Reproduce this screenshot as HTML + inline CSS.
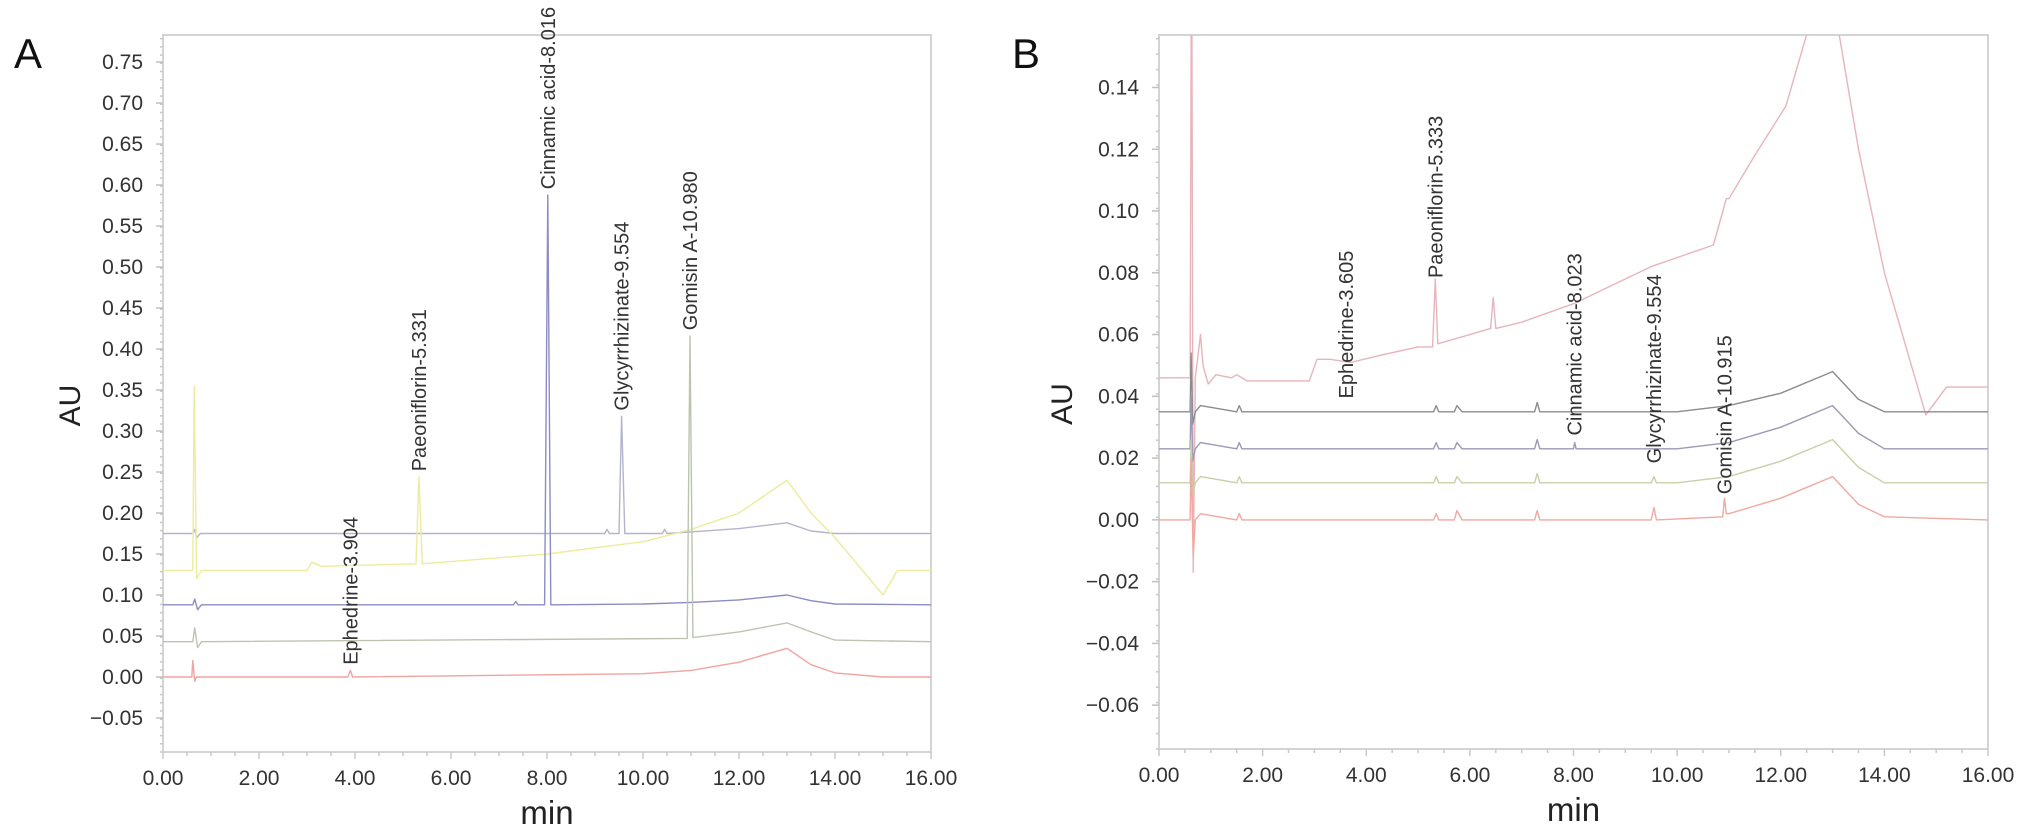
<!DOCTYPE html>
<html><head><meta charset="utf-8">
<style>
html,body{margin:0;padding:0;background:#fff;}
svg{display:block;font-family:"Liberation Sans",Arial,sans-serif;}
</style></head>
<body>
<svg id="chart" width="2032" height="836" viewBox="0 0 2032 836" xmlns="http://www.w3.org/2000/svg">
<text x="28" y="68" font-size="42" fill="#111" text-anchor="middle">A</text>
<text x="1026" y="68" font-size="42" fill="#111" text-anchor="middle">B</text>
<g id="panelA"></g>
<g id="panelB"></g>
</svg>
<script>
// ---------- Panel A data ----------
const aXTicks = ["0.00","2.00","4.00","6.00","8.00","10.00","12.00","14.00","16.00"];
const aYTicks = [-0.05,0,0.05,0.10,0.15,0.20,0.25,0.30,0.35,0.40,0.45,0.50,0.55,0.60,0.65,0.70,0.75];
const aTopT = [0,0.62,0.66,0.7,0.78,9.2,9.25,9.3,9.5,9.554,9.62,10.4,10.45,10.5,11,12,13,13.5,14,16];
const aTopV = [0.175,0.175,0.18,0.17,0.175,0.175,0.18,0.175,0.175,0.318,0.175,0.175,0.18,0.175,0.177,0.181,0.188,0.178,0.175,0.175];
const aYelT = [0,0.62,0.65,0.7,0.8,0.9,3.0,3.1,3.3,5.27,5.331,5.4,8,10,11,12,13,13.5,14,15,15.3,16];
const aYelV = [0.13,0.13,0.355,0.12,0.13,0.13,0.13,0.14,0.135,0.138,0.244,0.138,0.15,0.165,0.18,0.20,0.24,0.20,0.17,0.10,0.13,0.13];
const aBluT = [0,0.62,0.66,0.72,0.8,7.3,7.35,7.4,7.95,8.016,8.08,10,11,12,13,13.5,14,16];
const aBluV = [0.088,0.088,0.095,0.082,0.088,0.088,0.092,0.088,0.088,0.588,0.088,0.089,0.091,0.094,0.100,0.093,0.089,0.088];
const aGryT = [0,0.62,0.66,0.72,0.8,10.92,10.98,11.04,12,13,13.5,14,16];
const aGryV = [0.043,0.043,0.06,0.036,0.043,0.047,0.416,0.048,0.055,0.066,0.055,0.045,0.043];
const aRedT = [0,0.6,0.62,0.66,0.7,3.85,3.904,3.95,10,11,12,13,13.5,14,15,16];
const aRedV = [0,0,0.02,-0.005,0,0,0.008,0,0.004,0.008,0.018,0.035,0.015,0.005,0,0];
const aPeakNames = ["Ephedrine-3.904","Paeoniflorin-5.331","Cinnamic acid-8.016","Glycyrrhizinate-9.554","Gomisin A-10.980"];
const aPeakT = [3.904,5.331,8.016,9.554,10.980];
const aPeakV = [0.010,0.246,0.590,0.320,0.418];

// ---------- Panel B data ----------
const bXTicks = ["0.00","2.00","4.00","6.00","8.00","10.00","12.00","14.00","16.00"];
const bYTicks = [-0.06,-0.04,-0.02,0,0.02,0.04,0.06,0.08,0.10,0.12,0.14];
const bPnkT = [0,0.6,0.63,0.66,0.7,0.8,0.85,0.95,1.1,1.4,1.5,1.7,2.9,3.05,3.3,3.7,4.2,5.0,5.28,5.333,5.38,6.0,6.4,6.45,6.5,7,8,9.5,10.7,10.95,11.0,11.5,12.1,12.55,12.8,13.0,13.1,13.5,14,14.8,15.2,16];
const bPnkV = [0.046,0.046,0.2,-0.017,0.046,0.06,0.05,0.044,0.047,0.046,0.047,0.045,0.045,0.052,0.052,0.051,0.053,0.056,0.056,0.078,0.057,0.06,0.062,0.072,0.062,0.064,0.070,0.082,0.089,0.104,0.104,0.118,0.134,0.16,0.175,0.18,0.16,0.12,0.08,0.034,0.043,0.043];
const bDrkT = [0,0.6,0.62,0.65,0.7,0.8,1.5,1.55,1.6,3.6,5.3,5.35,5.4,5.7,5.75,5.85,7.25,7.3,7.35,10,11,12,13,13.5,14,16];
const bDrkV = [0.035,0.035,0.054,0.031,0.035,0.037,0.035,0.037,0.035,0.035,0.035,0.037,0.035,0.035,0.037,0.035,0.035,0.038,0.035,0.035,0.037,0.041,0.048,0.039,0.035,0.035];
const bBluT = [0,0.6,0.62,0.65,0.7,0.8,1.5,1.55,1.6,5.3,5.35,5.4,5.7,5.75,5.85,7.25,7.3,7.35,8.0,8.023,8.05,10,11,12,13,13.5,14,16];
const bBluV = [0.023,0.023,0.04,0.019,0.023,0.025,0.023,0.025,0.023,0.023,0.025,0.023,0.023,0.025,0.023,0.023,0.026,0.023,0.023,0.025,0.023,0.023,0.025,0.030,0.037,0.028,0.023,0.023];
const bGrnT = [0,0.6,0.62,0.65,0.7,0.8,1.5,1.55,1.6,5.3,5.35,5.4,5.7,5.75,5.85,7.25,7.3,7.35,9.5,9.554,9.6,10,11,12,13,13.5,14,16];
const bGrnV = [0.012,0.012,0.026,0.008,0.012,0.014,0.012,0.014,0.012,0.012,0.014,0.012,0.012,0.014,0.012,0.012,0.015,0.012,0.012,0.014,0.012,0.012,0.014,0.019,0.026,0.017,0.012,0.012];
const bRedT = [0,0.6,0.62,0.66,0.7,0.8,1.5,1.55,1.6,5.3,5.35,5.4,5.7,5.75,5.85,7.25,7.3,7.35,9.5,9.554,9.6,10.88,10.915,10.95,11,12,13,13.5,14,16];
const bRedV = [0,0,0.02,-0.012,0,0.002,0,0.002,0,0,0.002,0,0,0.003,0,0,0.003,0,0,0.004,0,0.001,0.007,0.002,0.002,0.007,0.014,0.005,0.001,0];
const bPeakNames = ["Ephedrine-3.605","Paeoniflorin-5.333","Cinnamic acid-8.023","Glycyrrhizinate-9.554","Gomisin A-10.915"];
const bPeakT = [3.605,5.333,8.023,9.554,10.915];
const bPeakV = [0.038,0.077,0.026,0.017,0.007];

const NS = "http://www.w3.org/2000/svg";
function mk(tag, parent, attrs){
  const e = document.createElementNS(NS, tag);
  for (const k in attrs) e.setAttribute(k, attrs[k]);
  parent.appendChild(e);
  return e;
}

function drawPanel(g, cfg){
  const {L,R,T,B,ymin,ymax,yMinor,xTicks,yTicks,prefix} = cfg;
  const x = t => L + (t/16)*(R-L);
  const y = v => B - (v-ymin)/(ymax-ymin)*(B-T);
  const frame = mk('rect', g, {x:L,y:T,width:R-L,height:B-T,fill:'none',stroke:'#d4d4d4','stroke-width':2});
  
  
  const yAxis = mk('g', g, {});
  
  
  const nMin = Math.round((ymax-ymin)/yMinor);
  for (let i=0;i<=nMin;i++){
    const v = ymin + i*yMinor;
    const yy = y(v);
    if (yy < T-0.5 || yy > B+0.5) continue;
    mk('line', yAxis, {x1:L-3,x2:L,y1:yy,y2:yy,stroke:'#c8c8c8','stroke-width':1.5});
  }
  yTicks.forEach(v=>{
    const yy = y(v);
    mk('line', yAxis, {x1:L-7,x2:L,y1:yy,y2:yy,stroke:'#c0c0c0','stroke-width':1.5});
    const t = mk('text', yAxis, {x:L-20,y:yy+7,'font-size':21,fill:'#333','text-anchor':'end'});
    
    
    t.textContent = (v<0?'\u2212':'') + Math.abs(v).toFixed(2);
  });
  const xAxis = mk('g', g, {});
  
  
  for (let i=0;i<=32;i++){
    const xx = x(i*0.5);
    mk('line', xAxis, {x1:xx,x2:xx,y1:B,y2:B+(i%4===0?7:4),stroke:'#c8c8c8','stroke-width':1.5});
  }
  xTicks.forEach((lab,i)=>{
    const t = mk('text', xAxis, {x:x(i*2),y:B+33,'font-size':21,fill:'#333','text-anchor':'middle'});
    
    
    t.textContent = lab;
  });
  const xt = mk('text', g, {x:(L+R)/2,y:B+72,'font-size':33,fill:'#222','text-anchor':'middle'});
  
  
  xt.textContent = 'min';
  const yt = mk('text', g, {x:0,y:0,'font-size':30,fill:'#222','text-anchor':'middle',transform:`translate(${cfg.auX},${(T+B)/2+12}) rotate(-90)`});
  
  
  yt.textContent = 'AU';
  const cp = mk('clipPath', g, {id:prefix+'-clip'});
  mk('rect', cp, {x:L,y:T,width:R-L,height:B-T});
  const traces = mk('g', g, {'clip-path':`url(#${prefix}-clip)`});
  cfg.series.forEach(s=>{
    const d = s.t.map((t,i)=>(i?'L':'M')+x(t).toFixed(1)+' '+y(s.v[i]).toFixed(1)).join(' ');
    const p = mk('path', traces, {d:d,fill:'none',stroke:s.c,'stroke-width':1.4,'stroke-linejoin':'round'});
    
    
  });
  cfg.peaks.names.forEach((nm,i)=>{
    const px = x(cfg.peaks.t[i]), py = y(cfg.peaks.v[i]) - 4;
    const t = mk('text', g, {x:0,y:0,'font-size':20,fill:'#333','text-anchor':'start',transform:`translate(${px+7},${py}) rotate(-90)`});
    
    
    t.textContent = nm;
  });
}

drawPanel(document.getElementById('panelA'), {
  L:163,R:931,T:35,B:752,ymin:-0.0915,ymax:0.783,yMinor:0.01,
  xTicks:aXTicks,yTicks:aYTicks,prefix:'panel-a',auX:80,
  series:[
    {t:aTopT,v:aTopV,c:'#b4b4cc',name:'trace-a-top'},
    {t:aYelT,v:aYelV,c:'#ecec9c',name:'trace-a-yellow'},
    {t:aBluT,v:aBluV,c:'#8c8cc4',name:'trace-a-blue'},
    {t:aGryT,v:aGryV,c:'#bcc4b0',name:'trace-a-grey'},
    {t:aRedT,v:aRedV,c:'#f0a4a0',name:'trace-a-red'}
  ],
  peaks:{names:aPeakNames,t:aPeakT,v:aPeakV}
});
drawPanel(document.getElementById('panelB'), {
  L:1159,R:1988,T:35,B:749,ymin:-0.0742,ymax:0.157,yMinor:0.005,
  xTicks:bXTicks,yTicks:bYTicks,prefix:'panel-b',auX:1072,
  series:[
    {t:bPnkT,v:bPnkV,c:'#e8b4bc',name:'trace-b-pink'},
    {t:bDrkT,v:bDrkV,c:'#8c8c8c',name:'trace-b-dark'},
    {t:bBluT,v:bBluV,c:'#9a9ab8',name:'trace-b-blue'},
    {t:bGrnT,v:bGrnV,c:'#c8d0a8',name:'trace-b-green'},
    {t:bRedT,v:bRedV,c:'#f0a8a0',name:'trace-b-red'}
  ],
  peaks:{names:bPeakNames,t:bPeakT,v:bPeakV}
});
</script>
</body></html>
